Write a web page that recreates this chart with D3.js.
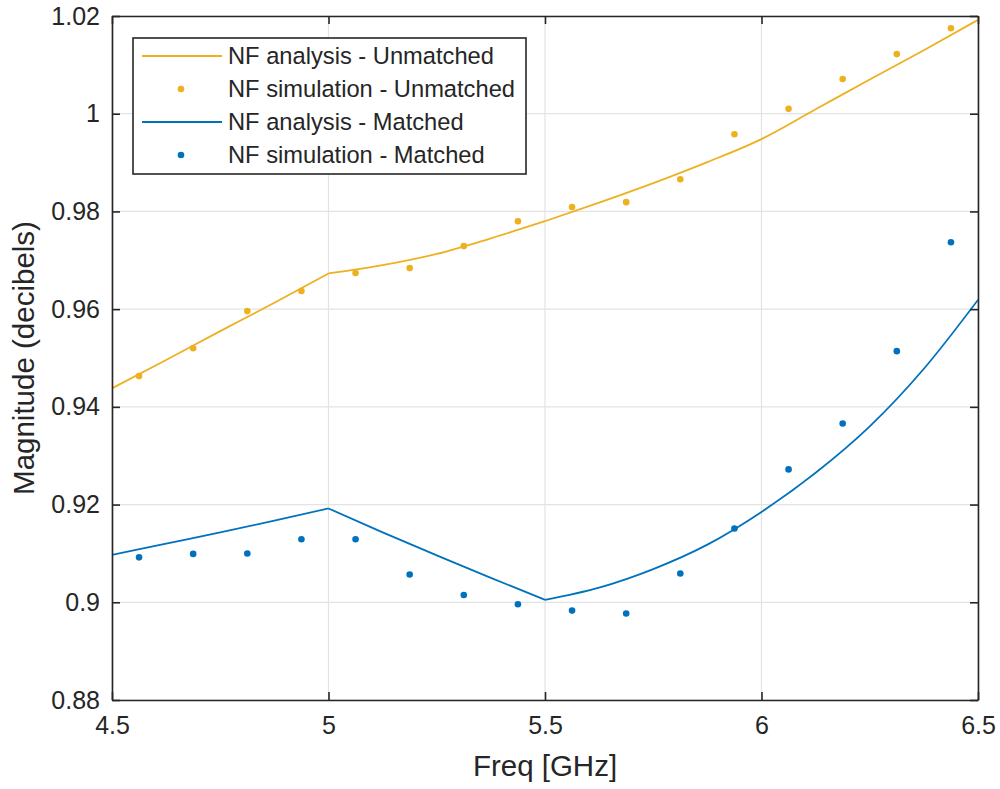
<!DOCTYPE html>
<html><head><meta charset="utf-8">
<script src="https://cdn.jsdelivr.net/npm/d3@7"></script>
<style>body{margin:0;background:#fff;} svg{display:block;font-family:"Liberation Sans",Arial,Helvetica,sans-serif;}</style>
</head><body>
<svg id="c" width="1000" height="789"></svg>
<script>
// ---- data ----
const freqAnalysis = [4.5,4.625,4.75,4.875,5.0,5.125,5.25,5.375,5.5,5.625,5.75,5.875,6.0,6.125,6.25,6.375,6.5];
const nfAnalysisUnmatched = [0.9438,0.9496,0.9555,0.9613,0.9673,0.9690,0.9713,0.9745,0.9780,0.9818,0.9858,0.9901,0.9948,1.0009,1.0070,1.0130,1.0192];
const nfAnalysisMatched   = [0.9097,0.9120,0.9143,0.9167,0.9192,0.9143,0.9096,0.9050,0.9005,0.9030,0.9068,0.9118,0.9185,0.9265,0.9360,0.9478,0.9619];
const kinkFreqs = [5.0,5.5];
const freqSim = [4.5625,4.6875,4.8125,4.9375,5.0625,5.1875,5.3125,5.4375,5.5625,5.6875,5.8125,5.9375,6.0625,6.1875,6.3125,6.4375];
const nfSimUnmatched = [0.9463,0.9520,0.9596,0.9637,0.9674,0.9684,0.9729,0.9780,0.9809,0.9819,0.9866,0.9958,1.0010,1.0071,1.0122,1.0175];
const nfSimMatched   = [0.9092,0.9099,0.9100,0.9129,0.9129,0.9057,0.9015,0.8996,0.8983,0.8977,0.9059,0.9151,0.9272,0.9366,0.9514,0.9737];
const xTicks = [4.5,5,5.5,6,6.5];
const xTickLabels = ["4.5","5","5.5","6","6.5"];
const yTicks = [0.88,0.90,0.92,0.94,0.96,0.98,1.00,1.02];
const yTickLabels = ["0.88","0.9","0.92","0.94","0.96","0.98","1","1.02"];
const legendLabels = ["NF analysis - Unmatched","NF simulation - Unmatched","NF analysis - Matched","NF simulation - Matched"];
const colorOrange = "#EDB120", colorBlue = "#0072BD";

// ---- layout ----
const L = 112, R = 978, T = 16, B = 700;
const svg = d3.select("#c");
const x = d3.scaleLinear().domain([4.5,6.5]).range([L,R]);
const y = d3.scaleLinear().domain([0.88,1.02]).range([B,T]);
const axisCol = "#262626", gridCol = "#e3e3e3";

// grid
const g = svg.append("g");
g.selectAll(".gx").data(xTicks).join("line")
  .attr("x1",d=>x(d)).attr("x2",d=>x(d)).attr("y1",T).attr("y2",B)
  .attr("stroke",gridCol).attr("stroke-width",1.2);
g.selectAll(".gy").data(yTicks).join("line")
  .attr("y1",d=>y(d)).attr("y2",d=>y(d)).attr("x1",L).attr("x2",R)
  .attr("stroke",gridCol).attr("stroke-width",1.2);

// lines (piecewise smooth between kinks)
const line = d3.line().x(d=>x(d[0])).y(d=>y(d[1])).curve(d3.curveMonotoneX);
svg.append("clipPath").attr("id","pc").append("rect").attr("x",L).attr("y",T).attr("width",R-L).attr("height",B-T);
const plot = svg.append("g").attr("clip-path","url(#pc)");
function pieces(vals){
  const bounds = [freqAnalysis[0], ...kinkFreqs, freqAnalysis[freqAnalysis.length-1]];
  const out = [];
  for(let k=0;k<bounds.length-1;k++){
    out.push(freqAnalysis.map((f,i)=>[f,vals[i]]).filter(p=>p[0]>=bounds[k]-1e-9 && p[0]<=bounds[k+1]+1e-9));
  }
  return out;
}
function drawSeries(vals,col){
  const segs = pieces(vals);
  const d = segs.map(s=>line(s)).join("");
  plot.append("path").attr("d",d).attr("fill","none").attr("stroke",col)
    .attr("stroke-width",1.8).attr("stroke-linejoin","round");
}
drawSeries(nfAnalysisUnmatched,colorOrange);
drawSeries(nfAnalysisMatched,colorBlue);
svg.append("g").selectAll("circle").data(freqSim.map((f,i)=>[f,nfSimUnmatched[i]])).join("circle")
  .attr("cx",d=>x(d[0])).attr("cy",d=>y(d[1])).attr("r",3.3).attr("fill",colorOrange);
svg.append("g").selectAll("circle").data(freqSim.map((f,i)=>[f,nfSimMatched[i]])).join("circle")
  .attr("cx",d=>x(d[0])).attr("cy",d=>y(d[1])).attr("r",3.3).attr("fill",colorBlue);

// axes
const tickLen = 8;
const xAxisB = d3.axisBottom(x).tickValues(xTicks).tickFormat((d,i)=>xTickLabels[i]).tickSizeInner(-tickLen).tickSizeOuter(0).tickPadding(16);
const xAxisT = d3.axisTop(x).tickValues(xTicks).tickFormat("").tickSizeInner(-tickLen).tickSizeOuter(0);
const yAxisL = d3.axisLeft(y).tickValues(yTicks).tickFormat((d,i)=>yTickLabels[i]).tickSizeInner(-tickLen).tickSizeOuter(0).tickPadding(12);
const yAxisR = d3.axisRight(y).tickValues(yTicks).tickFormat("").tickSizeInner(-tickLen).tickSizeOuter(0);
function style(sel){
  sel.selectAll("path").attr("stroke",axisCol).attr("stroke-width",1.6);
  sel.selectAll("line").attr("stroke",axisCol).attr("stroke-width",1.6);
  sel.selectAll("text").attr("fill",axisCol).style("font-size","25px").style("font-family","'Liberation Sans',Arial,sans-serif");
}
svg.append("g").attr("transform",`translate(0,${B})`).call(xAxisB).call(style);
svg.append("g").attr("transform",`translate(0,${T})`).call(xAxisT).call(style);
svg.append("g").attr("transform",`translate(${L},0)`).call(yAxisL).call(style);
svg.append("g").attr("transform",`translate(${R},0)`).call(yAxisR).call(style);

// axis labels
svg.append("text").attr("x",(L+R)/2).attr("y",776).attr("text-anchor","middle")
  .attr("fill",axisCol).style("font-size","29.5px").text("Freq [GHz]");
svg.append("text").attr("transform",`translate(34,${(T+B)/2}) rotate(-90)`).attr("text-anchor","middle")
  .attr("fill",axisCol).style("font-size","29.5px").text("Magnitude (decibels)");

// legend
const lg = svg.append("g");
lg.append("rect").attr("x",133).attr("y",38).attr("width",393).attr("height",136)
  .attr("fill","#fff").attr("stroke",axisCol).attr("stroke-width",1.6);
const rowY = d3.scaleLinear().domain([0,3]).range([56,155]);
const legendColors = [colorOrange,colorOrange,colorBlue,colorBlue];
const legendIsLine = [true,false,true,false];
legendLabels.forEach((lab,i)=>{
  const yy = rowY(i);
  if(legendIsLine[i]) lg.append("line").attr("x1",142).attr("x2",222).attr("y1",yy).attr("y2",yy).attr("stroke",legendColors[i]).attr("stroke-width",1.8);
  else lg.append("circle").attr("cx",181).attr("cy",yy).attr("r",3.3).attr("fill",legendColors[i]);
  lg.append("text").attr("x",228).attr("y",yy).attr("dy","0.35em").attr("fill",axisCol).style("font-size","23.7px").text(lab);
});
</script>
</body></html>
